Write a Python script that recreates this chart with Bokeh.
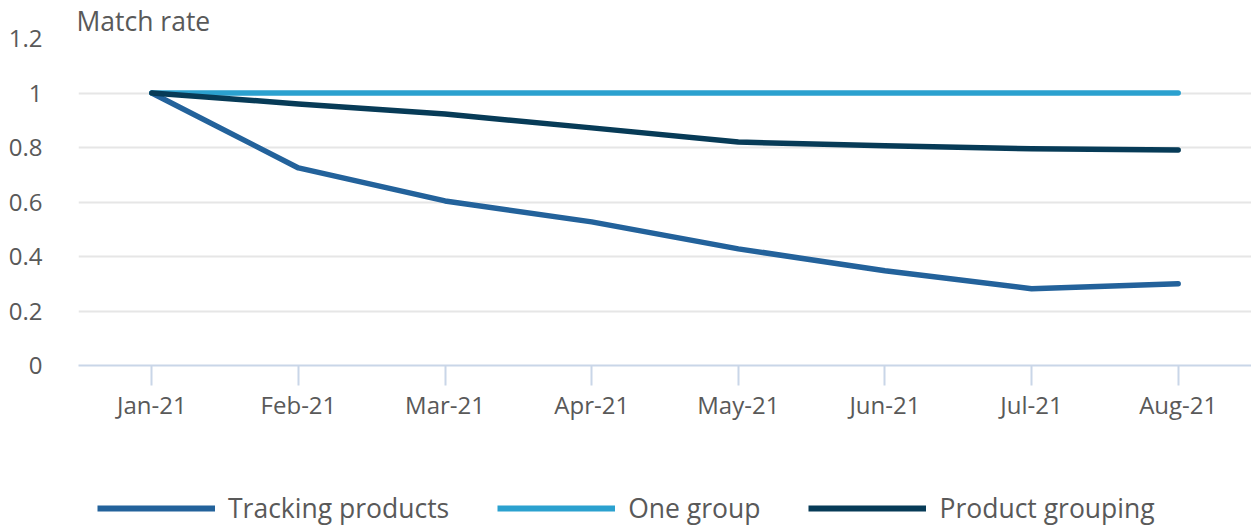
from bokeh.plotting import figure
from bokeh.layouts import column
from bokeh.models import (FactorRange, Range1d, FixedTicker, CustomJSTickFormatter,
                          Legend, LegendItem)
from bokeh.embed import file_html
from bokeh.resources import INLINE

months = ["Jan-21", "Feb-21", "Mar-21", "Apr-21", "May-21", "Jun-21", "Jul-21", "Aug-21"]
tracking_products = [1.0, 0.725, 0.604, 0.527, 0.428, 0.348, 0.282, 0.300]
one_group = [1.0, 1.0, 1.0, 1.0, 1.0, 1.0, 1.0, 1.0]
product_grouping = [1.0, 0.960, 0.923, 0.872, 0.820, 0.806, 0.795, 0.791]
y_ticks = [0, 0.2, 0.4, 0.6, 0.8, 1.0, 1.2]

FONT = "Open Sans"
TXT = "#595959"

p = figure(width=1251, height=440, x_range=FactorRange(*months, range_padding=0),
           y_range=Range1d(0, 1.2), output_backend="svg", toolbar_location=None,
           min_border_left=78, min_border_right=0, min_border_top=37, min_border_bottom=75,
           title="Match rate")
p.outline_line_color = None
p.background_fill_color = "white"
p.title.text_font = FONT
p.title.text_font_size = "26.5px"
p.title.text_font_style = "normal"
p.title.text_color = TXT
p.title.align = "left"
p.title.standoff = 0
p.title.offset = -2

series = [
    ("Tracking products", tracking_products, "#23629b"),
    ("One group", one_group, "#2ba1cf"),
    ("Product grouping", product_grouping, "#073b57"),
]
for name, vals, col in series:
    p.line(months, vals, line_color=col, line_width=5.5, line_cap="round", line_join="round")

# y axis
p.yaxis.ticker = FixedTicker(ticks=y_ticks)
p.yaxis.formatter = CustomJSTickFormatter(code="return String(Math.round(tick*10)/10);")
p.yaxis.axis_line_color = None
p.yaxis.major_tick_line_color = None
p.yaxis.minor_tick_line_color = None
p.yaxis.major_label_standoff = 30
p.yaxis.major_label_text_font = FONT
p.yaxis.major_label_text_font_size = "24px"
p.yaxis.major_label_text_color = TXT

# x axis
p.xaxis.axis_line_color = "#c9d6e8"
p.xaxis.axis_line_width = 2
p.xaxis.major_tick_line_color = "#c9d6e8"
p.xaxis.major_tick_line_width = 2
p.xaxis.major_tick_out = 20
p.xaxis.major_tick_in = 0
p.xaxis.major_label_standoff = 2
p.xaxis.major_label_text_font = FONT
p.xaxis.major_label_text_font_size = "24px"
p.xaxis.major_label_text_color = TXT

p.xgrid.grid_line_color = None
p.ygrid.grid_line_color = "#e6e6e6"
p.ygrid.grid_line_width = 2

# legend panel (separate figure underneath)
lg = figure(width=1251, height=86, x_range=Range1d(0, 1), y_range=Range1d(0, 1),
            output_backend="svg", toolbar_location=None, x_axis_type=None, y_axis_type=None,
            min_border_left=78, min_border_right=0, min_border_top=0, min_border_bottom=0)
lg.outline_line_color = None
lg.xgrid.visible = False
lg.ygrid.visible = False
items = []
for name, vals, col in series:
    # off-range proxy line, only used to draw the legend swatch
    r = lg.line(x=[-10, -9], y=[-10, -10], line_color=col, line_width=6)
    items.append(LegendItem(label=name, renderers=[r]))

legend = Legend(items=items, orientation="horizontal", location=(19, 0),
                glyph_width=118, glyph_height=30, label_standoff=13, spacing=48,
                label_height=30,
                label_text_font=FONT, label_text_font_size="26.5px", label_text_color=TXT,
                border_line_color=None, background_fill_alpha=0, margin=0,
                padding=0)
lg.add_layout(legend)

layout = column(p, lg, spacing=0)

with open("out.html", "w") as f:
    f.write(file_html(layout, INLINE))
